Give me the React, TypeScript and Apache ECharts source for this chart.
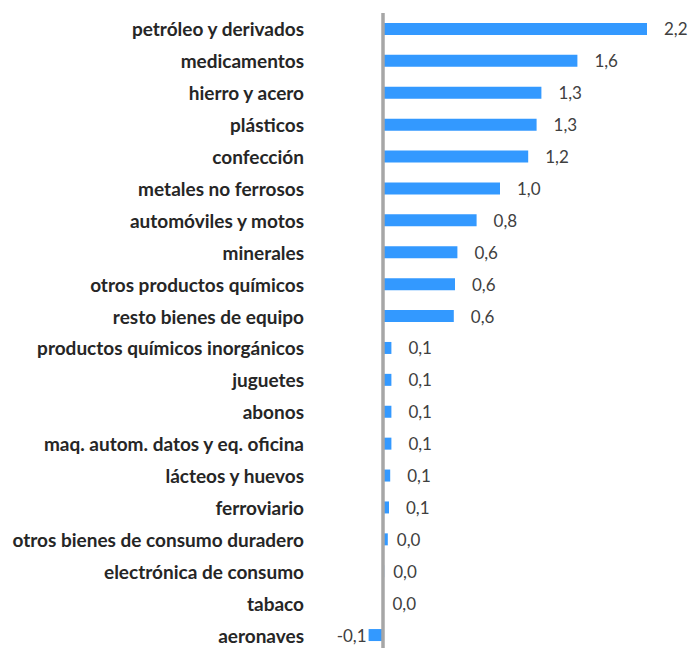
import React, { useEffect, useRef } from "react";
import * as echarts from "echarts";

const categories = [
  "petróleo y derivados",
  "medicamentos",
  "hierro y acero",
  "plásticos",
  "confección",
  "metales no ferrosos",
  "automóviles y motos",
  "minerales",
  "otros productos químicos",
  "resto bienes de equipo",
  "productos químicos inorgánicos",
  "juguetes",
  "abonos",
  "maq. autom. datos y eq. oficina",
  "lácteos y huevos",
  "ferroviario",
  "otros bienes de consumo duradero",
  "electrónica de consumo",
  "tabaco",
  "aeronaves",
];

const values = [
  2.2, 1.62, 1.32, 1.28, 1.21, 0.975, 0.78, 0.62, 0.6, 0.59,
  0.07, 0.07, 0.07, 0.07, 0.06, 0.05, 0.04, 0.01, 0.004, -0.12,
];

const fmt = (v: number) => v.toFixed(1).replace(".", ",");

export default function App() {
  const ref = useRef<HTMLDivElement>(null);
  useEffect(() => {
    if (!ref.current) return;
    const chart = echarts.init(ref.current, undefined, { renderer: "svg" });
    chart.setOption({
      animation: false,
      backgroundColor: "#ffffff",
      grid: { left: 335, top: 13, width: 348, height: 638, containLabel: false },
      xAxis: {
        type: "value",
        min: -0.4,
        max: 2.5,
        show: false,
      },
      yAxis: {
        type: "category",
        data: categories,
        inverse: true,
        axisLine: { show: false },
        axisTick: { show: false },
        axisLabel: {
          margin: 31,
          color: "#262626",
          fontFamily: "Lato",
          fontWeight: "bold",
          fontSize: 19,
          lineHeight: 14,
        },
      },
      series: [
        {
          type: "bar",
          barWidth: 12,
          itemStyle: { color: "#3399FF" },
          data: values.map((v) => ({
            value: v,
            label: {
              position: v < 0 ? "left" : "right",
              distance: v < 0 ? 2 : Math.abs(v) < 0.05 ? 9 : 17,
            },
          })),
          label: {
            show: true,
            color: "#404040",
            fontFamily: "Lato",
            fontSize: 17,
            lineHeight: 14,
            formatter: (p: any) => fmt(p.value),
          },
          markLine: {
            silent: true,
            symbol: "none",
            label: { show: false },
            lineStyle: { color: "#A6A6A6", width: 3.5, type: "solid" },
            data: [{ xAxis: 0 }],
          },
        },
      ],
    });
    return () => chart.dispose();
  }, []);
  return (
    <div
      ref={ref}
      style={{ position: "absolute", left: 0, top: 0, width: 691, height: 690 }}
    />
  );
}
